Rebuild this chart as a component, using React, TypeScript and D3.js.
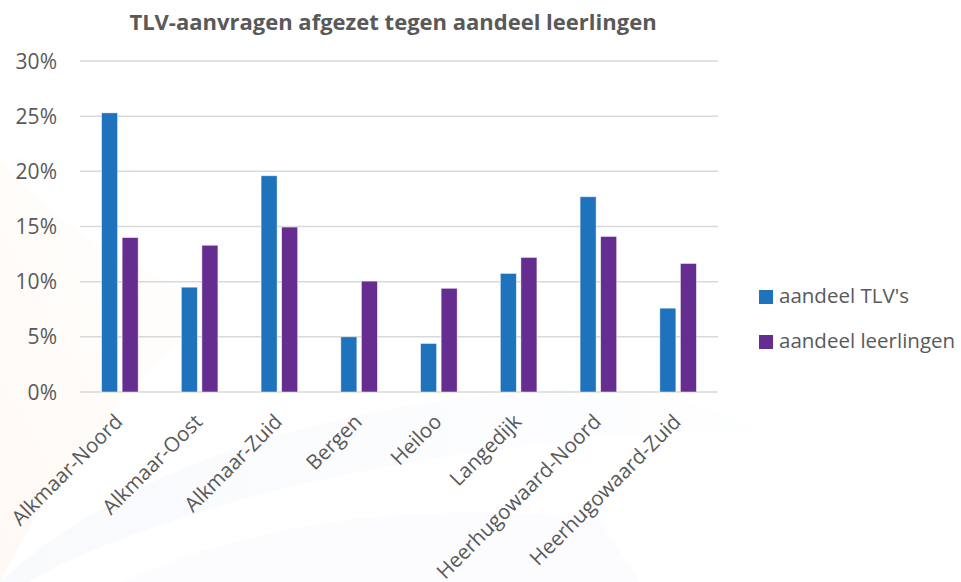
import React from "react";
import * as d3 from "d3";

const categories = ["Alkmaar-Noord", "Alkmaar-Oost", "Alkmaar-Zuid", "Bergen", "Heiloo", "Langedijk", "Heerhugowaard-Noord", "Heerhugowaard-Zuid"];
const tlvShare = [25.3, 9.5, 19.6, 5.0, 4.4, 10.75, 17.7, 7.6];
const pupilShare = [14.0, 13.3, 14.95, 10.05, 9.4, 12.2, 14.1, 11.65];
const seriesNames = ["aandeel TLV's", "aandeel leerlingen"];
const yTicks = [0, 5, 10, 15, 20, 25, 30];
const title = "TLV-aanvragen afgezet tegen aandeel leerlingen";

const W = 961, H = 582;
const colors = ["#1F72BC", "#652D8F"];
const font = "'Open Sans', sans-serif";
const textColor = "#595959";

export default function App() {
  const x0 = d3.scaleBand<string>().domain(categories).range([80, 718]).paddingInner(0).paddingOuter(0);
  const x1 = d3.scaleBand<number>().domain([0, 1]).range([0, x0.bandwidth()]).paddingInner(0.22).paddingOuter(1.05);
  const y = d3.scaleLinear().domain([0, 30]).range([392, 61]);
  const series = [tlvShare, pupilShare];

  return (
    <svg width={W} height={H} style={{ position: "absolute", left: 0, top: 0, background: "#fff" }} fontFamily={font}>
      <defs>
        <linearGradient id="wmO" x1="0" y1="1" x2="1" y2="0">
          <stop offset="0" stopColor="#F4A460" stopOpacity={0.07} />
          <stop offset="1" stopColor="#F4A460" stopOpacity={0} />
        </linearGradient>
        <linearGradient id="wmB" x1="0" y1="0" x2="1" y2="0">
          <stop offset="0" stopColor="#8FA8D8" stopOpacity={0.06} />
          <stop offset="1" stopColor="#8FA8D8" stopOpacity={0.01} />
        </linearGradient>
      </defs>
      <path d="M0,582 L0,160 C60,230 140,280 230,300 C150,360 60,460 0,582 Z" fill="url(#wmO)" />
      <path d="M0,582 C120,470 330,400 560,390 C640,388 700,400 760,430 C640,430 420,450 240,500 C140,530 60,560 30,582 Z" fill="url(#wmB)" />
      <path d="M120,582 C260,520 420,500 600,520 L640,582 Z" fill="#9FB3DA" fillOpacity={0.035} />
      <text x={393} y={30} textAnchor="middle" fontSize={22} fontWeight="bold" fill={textColor}>{title}</text>
      {yTicks.map((t) => (
        <g key={t}>
          <line x1={80} x2={718} y1={y(t)} y2={y(t)} stroke="#D9D9D9" strokeWidth={1.5} />
          <text x={57} y={y(t)} dy="0.36em" textAnchor="end" fontSize={21} fill={textColor}>{t}%</text>
        </g>
      ))}
      {categories.map((c, i) => (
        <g key={c}>
          {series.map((s, j) => (
            <rect key={j} x={(x0(c) as number) + (x1(j) as number)} y={y(s[i])} width={x1.bandwidth()} height={y(0) - y(s[i])}
              fill={colors[j]} stroke="#ffffff" strokeOpacity={0.6} strokeWidth={0.8} />
          ))}
          <text transform={`translate(${(x0(c) as number) + x0.bandwidth() / 2 + 4},${423}) rotate(-45)`} textAnchor="end" fontSize={20.5} fill={textColor}>{c}</text>
        </g>
      ))}
      {seriesNames.map((n, j) => (
        <g key={n} transform={`translate(759,${290 + j * 45})`}>
          <rect x={0} y={0} width={14} height={14} fill={colors[j]} />
          <text x={20} y={13} fontSize={20.5} fill={textColor}>{n}</text>
        </g>
      ))}
    </svg>
  );
}
